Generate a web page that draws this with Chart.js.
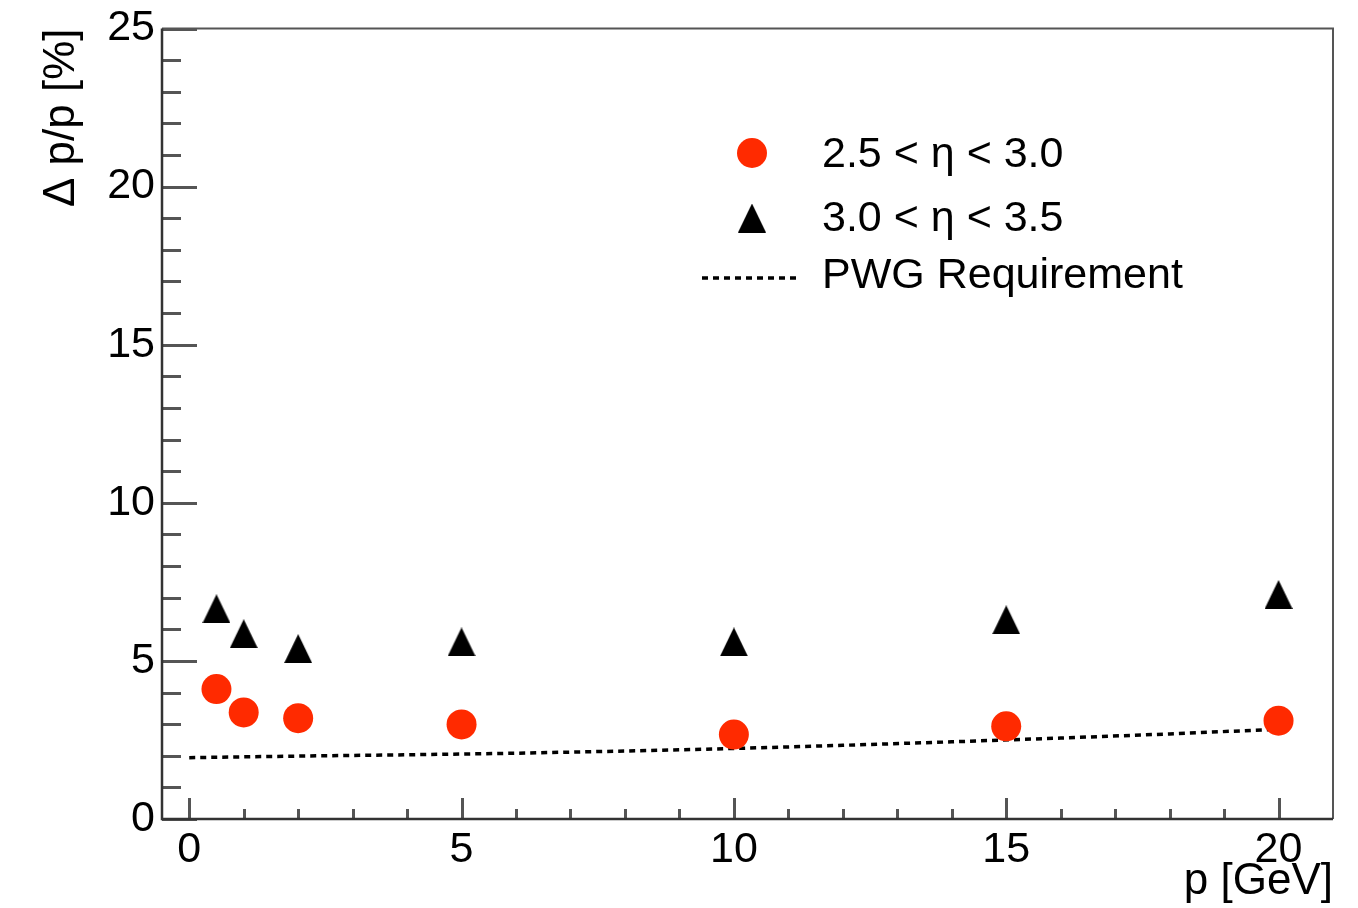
<!DOCTYPE html>
<html>
<head>
<meta charset="utf-8">
<script src="https://cdn.jsdelivr.net/npm/chart.js@4.4.1/dist/chart.umd.min.js"></script>
<style>
  html, body { margin: 0; padding: 0; background: #fff; }
  canvas { display: block; }
</style>
</head>
<body>
<canvas id="resolutionChart" width="1358" height="908"></canvas>
<script>
// momentum points and relative resolution per eta bin
const pValues = [0.5, 1, 2, 5, 10, 15, 20];
const resEta25to30 = [4.11, 3.37, 3.19, 2.99, 2.67, 2.93, 3.11];
const resEta30to35 = [6.65, 5.86, 5.39, 5.60, 5.60, 6.30, 7.10];

// requirement curve
const pwgP = [0, 2, 4, 6, 8, 10, 12, 14, 16, 18, 20];
const pwgRequirement = [1.94, 1.99, 2.03, 2.08, 2.15, 2.23, 2.33, 2.44, 2.56, 2.69, 2.84];

const xTickValues = [0, 5, 10, 15, 20];
const yTickValues = [0, 5, 10, 15, 20, 25];
const seriesLabels = ["2.5 < η < 3.0", "3.0 < η < 3.5", "PWG Requirement"];

const FONT = '"Liberation Sans", Arial, Helvetica, sans-serif';
const RED = '#ff2a00';

// filled up-triangle, centred on its bounding box
function makeTriangle(w, h, color) {
  const c = document.createElement('canvas');
  c.width = w;
  c.height = h;
  const g = c.getContext('2d');
  g.fillStyle = color;
  g.beginPath();
  g.moveTo(w / 2, 0);
  g.lineTo(w, h);
  g.lineTo(0, h);
  g.closePath();
  g.fill();
  return c;
}
const triangle = makeTriangle(28, 29, '#000');

// frame + inward major/minor ticks
const frameTicks = {
  id: 'frameTicks',
  beforeDatasetsDraw(chart) {
    const { ctx, chartArea: { left, right, top, bottom }, scales: { x, y } } = chart;
    ctx.save();
    ctx.strokeStyle = '#555';
    ctx.lineWidth = 2;
    ctx.beginPath();
    ctx.moveTo(left, top);
    ctx.lineTo(right, top);
    ctx.lineTo(right, bottom);
    ctx.stroke();

    ctx.strokeStyle = '#555';
    ctx.lineWidth = 3;
    ctx.beginPath();
    for (let v = 0; v <= 25; v++) {
      const py = Math.round(y.getPixelForValue(v)) + 0.5;
      const len = v % 5 === 0 ? 35 : 19;
      ctx.moveTo(left, py);
      ctx.lineTo(left + len, py);
    }
    for (let v = 0; v <= 20; v++) {
      const px = Math.round(x.getPixelForValue(v)) + 0.5;
      const len = v % 5 === 0 ? 21 : 10;
      ctx.moveTo(px, bottom);
      ctx.lineTo(px, bottom - len);
    }
    ctx.stroke();

    ctx.strokeStyle = '#333';
    ctx.lineWidth = 2.5;
    ctx.beginPath();
    ctx.moveTo(left, top);
    ctx.lineTo(left, bottom);
    ctx.lineTo(right, bottom);
    ctx.stroke();
    ctx.restore();
  }
};

// legend box in the upper right of the plot
const insideLegend = {
  id: 'insideLegend',
  afterDraw(chart) {
    const { ctx } = chart;
    const ds = chart.data.datasets;
    const markX = 752;
    const textX = 822;
    const rows = [155, 219, 276];
    ctx.save();

    ctx.fillStyle = ds[0].backgroundColor;
    ctx.beginPath();
    ctx.arc(markX, rows[0] - 2, ds[0].pointRadius, 0, Math.PI * 2);
    ctx.fill();

    ctx.drawImage(triangle, markX - triangle.width / 2, rows[1] - 1 - triangle.height / 2);

    ctx.strokeStyle = ds[2].borderColor;
    ctx.lineWidth = ds[2].borderWidth;
    ctx.setLineDash(ds[2].borderDash);
    ctx.beginPath();
    ctx.moveTo(702, rows[2] + 2);
    ctx.lineTo(797, rows[2] + 2);
    ctx.stroke();
    ctx.setLineDash([]);

    ctx.fillStyle = '#000';
    ctx.font = '43px ' + FONT;
    ctx.textBaseline = 'middle';
    ctx.textAlign = 'left';
    seriesLabels.forEach((t, i) => ctx.fillText(t, textX, rows[i]));
    ctx.restore();
  }
};

new Chart(document.getElementById('resolutionChart'), {
  type: 'scatter',
  data: {
    datasets: [
      {
        label: seriesLabels[0],
        data: pValues.map((p, i) => ({ x: p, y: resEta25to30[i] })),
        backgroundColor: RED,
        borderWidth: 0,
        pointStyle: 'circle',
        pointRadius: 15
      },
      {
        label: seriesLabels[1],
        data: pValues.map((p, i) => ({ x: p, y: resEta30to35[i] })),
        pointStyle: triangle,
        pointRadius: 15
      },
      {
        label: seriesLabels[2],
        type: 'line',
        data: pwgP.map((p, i) => ({ x: p, y: pwgRequirement[i] })),
        borderColor: '#000',
        borderWidth: 3.5,
        borderDash: [6, 5],
        pointRadius: 0,
        fill: false,
        tension: 0
      }
    ]
  },
  options: {
    responsive: false,
    animation: false,
    events: [],
    layout: { padding: { top: 25, right: 25, left: 0, bottom: 0 } },
    plugins: {
      legend: { display: false },
      tooltip: { enabled: false }
    },
    scales: {
      x: {
        type: 'linear',
        min: -0.5,
        max: 21,
        afterBuildTicks: s => { s.ticks = xTickValues.map(v => ({ value: v })); },
        afterFit: s => { s.height = 89; },
        grid: { display: false, drawTicks: false },
        border: { display: false },
        ticks: {
          autoSkip: false,
          maxRotation: 0,
          padding: 10,
          color: '#000',
          font: { family: FONT, size: 43, lineHeight: 1 }
        },
        title: {
          display: true,
          text: 'p [GeV]',
          align: 'end',
          color: '#000',
          font: { family: FONT, size: 44, lineHeight: 1.2 },
          padding: { top: 0, bottom: 0 }
        }
      },
      y: {
        type: 'linear',
        min: 0,
        max: 25,
        afterBuildTicks: s => { s.ticks = yTickValues.map(v => ({ value: v })); },
        afterFit: s => { s.width = 162; },
        grid: { display: false, drawTicks: false },
        border: { display: false },
        ticks: {
          padding: 7,
          color: '#000',
          font: { family: FONT, size: 43, lineHeight: 1 }
        },
        title: {
          display: true,
          text: 'Δ p/p [%]',
          align: 'end',
          color: '#000',
          font: { family: FONT, size: 44, lineHeight: 1.2 },
          padding: { top: 35, bottom: 0 }
        }
      }
    }
  },
  plugins: [frameTicks, insideLegend]
});
</script>
</body>
</html>
